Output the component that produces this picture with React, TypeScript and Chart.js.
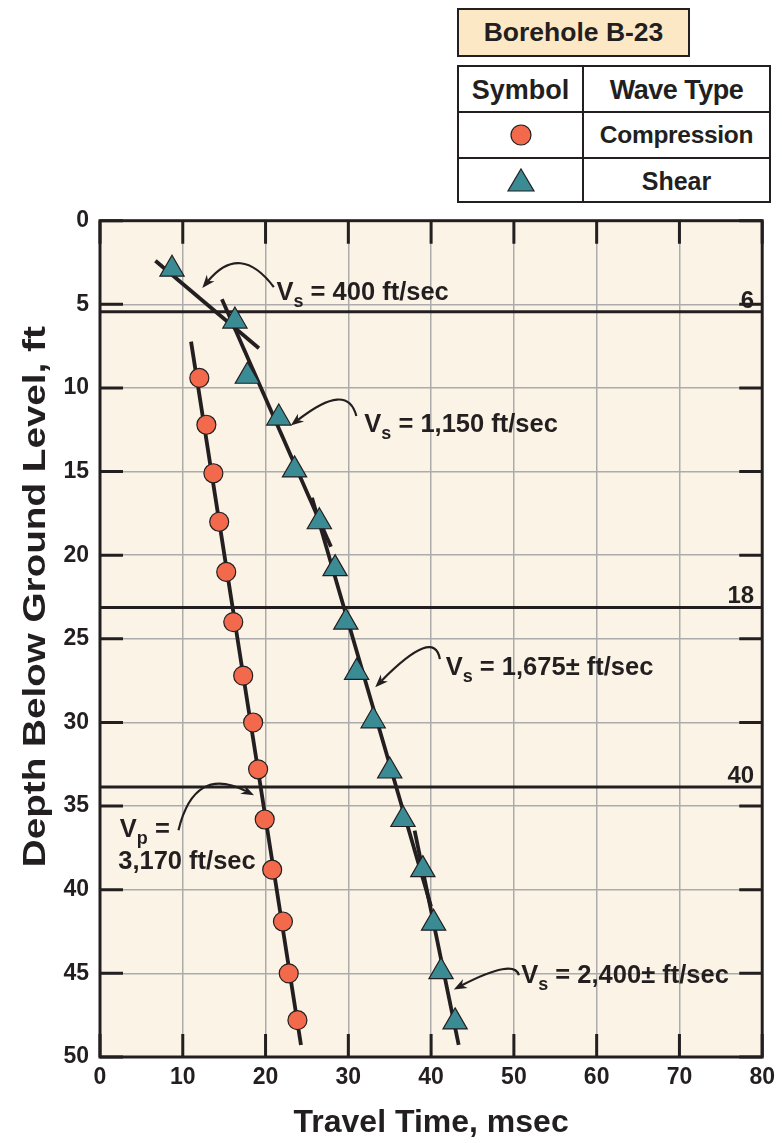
import React, { useEffect, useRef } from 'react';
import { Chart, registerables } from 'chart.js';

Chart.register(...registerables);

// ---------- data ----------
const compressionTime = [12.0, 12.85, 13.7, 14.4, 15.25, 16.1, 17.3, 18.5, 19.1, 19.9, 20.8, 22.1, 22.8, 23.85];
const compressionDepth = [9.4, 12.2, 15.1, 18.0, 21.0, 24.0, 27.2, 30.0, 32.8, 35.8, 38.8, 41.9, 45.0, 47.8];

const shearTime = [8.7, 16.3, 17.8, 21.6, 23.5, 26.5, 28.4, 29.7, 31.0, 33.0, 35.0, 36.6, 39.0, 40.3, 41.2, 42.9];
const shearDepth = [2.9, 6.0, 9.3, 11.8, 14.9, 18.0, 20.8, 24.0, 27.0, 29.9, 32.9, 35.8, 38.8, 42.0, 44.9, 47.9];

// fitted velocity lines: [time, depth] end points
const fitVs400 = [[6.69, 2.39], [19.2, 7.63]];
const fitVs1150 = [[14.73, 4.7], [27.9, 19.5]];
const fitVs1675 = [[25.61, 16.56], [39.99, 41.0]];
const fitVs2400 = [[38.01, 36.47], [43.33, 49.28]];
const fitVp3170 = [[11.0, 7.23], [24.28, 49.28]];

// layer boundaries
const layerDepth = [5.44, 23.12, 33.85];
const layerLabel = ['6', '18', '40'];

// axis ticks
const xTickValues = [0, 10, 20, 30, 40, 50, 60, 70, 80];
const yTickValues = [0, 5, 10, 15, 20, 25, 30, 35, 40, 45, 50];

// annotation arrows (data coords): start, control, tip
const arrowStart = [[21.0, 3.97], [30.97, 11.68], [41.06, 26.21], [50.6, 45.11], [9.48, 36.44]];
const arrowControl = [[16.93, 1.3], [29.89, 9.59], [40.4, 24.3], [50.06, 44.1], [11.4, 32.55]];
const arrowTip = [[12.36, 4.02], [23.05, 12.25], [33.25, 27.89], [42.74, 45.96], [18.61, 34.35]];

// annotation labels (data coords, left/baseline)
const labelPos = [[21.32, 4.74], [31.93, 12.63], [41.77, 27.16], [50.89, 45.58], [2.4, 36.85]];
const labelMain = ['V', 'V', 'V', 'V', 'V'];
const labelSub = ['s', 's', 's', 's', 'p'];
const labelRest = [' = 400 ft/sec', ' = 1,150 ft/sec', ' = 1,675\u00b1 ft/sec', ' = 2,400\u00b1 ft/sec', ' ='];
const extraLabelPos = [[2.2, 38.77]];
const extraLabelText = ['3,170 ft/sec'];

// ---------- styles ----------
const FONT = '"Liberation Sans", Arial, Helvetica, sans-serif';
const INK = '#231f20';
const BG = '#fbf4e6';
const GRID = '#ababab';
const ORANGE = '#f26a4b';
const TEAL = '#3a8b94';

const toPts = (xs: number[], ys: number[]) => xs.map((x, i) => ({ x, y: ys[i] }));
const seg = (p: number[][]) => p.map(([x, y]) => ({ x, y }));

const lineDs = (label: string, pts: number[][]) => ({
  label,
  data: seg(pts),
  showLine: true,
  borderColor: INK,
  borderWidth: 3.8,
  pointRadius: 0,
  order: 2,
});

const decorPlugin = {
  id: 'decor',
  beforeDraw(chart: any) {
    const { ctx, chartArea: a } = chart;
    ctx.save();
    ctx.fillStyle = BG;
    ctx.fillRect(a.left, a.top, a.right - a.left, a.bottom - a.top);
    ctx.restore();
  },
  beforeDatasetsDraw(chart: any) {
    const { ctx, chartArea: a, scales } = chart;
    const xs = scales.x;
    const ys = scales.y;
    const TL = 23;
    ctx.save();
    ctx.strokeStyle = INK;
    ctx.lineWidth = 3;
    ctx.beginPath();
    yTickValues.forEach((v) => {
      const py = ys.getPixelForValue(v);
      ctx.moveTo(a.left, py);
      ctx.lineTo(a.left + TL, py);
      ctx.moveTo(a.right, py);
      ctx.lineTo(a.right - TL, py);
    });
    xTickValues.forEach((v) => {
      const px = xs.getPixelForValue(v);
      ctx.moveTo(px, a.top);
      ctx.lineTo(px, a.top + TL);
      ctx.moveTo(px, a.bottom);
      ctx.lineTo(px, a.bottom - TL);
    });
    ctx.stroke();
    ctx.strokeRect(a.left, a.top, a.right - a.left, a.bottom - a.top);
    ctx.restore();
  },
  afterDatasetsDraw(chart: any) {
    const { ctx, chartArea: a, scales } = chart;
    const xs = scales.x;
    const ys = scales.y;
    const P = (p: number[]) => [xs.getPixelForValue(p[0]), ys.getPixelForValue(p[1])];
    ctx.save();
    ctx.fillStyle = INK;
    ctx.strokeStyle = INK;

    // arrows
    arrowStart.forEach((s, i) => {
      const [x0, y0] = P(s);
      const [cx, cy] = P(arrowControl[i]);
      const [x1, y1] = P(arrowTip[i]);
      const ang = Math.atan2(y1 - cy, x1 - cx);
      const L = 13;
      const W = 5;
      const bx = x1 - L * 0.7 * Math.cos(ang);
      const by = y1 - L * 0.7 * Math.sin(ang);
      ctx.lineWidth = 2.2;
      ctx.beginPath();
      ctx.moveTo(x0, y0);
      ctx.quadraticCurveTo(cx, cy, bx, by);
      ctx.stroke();
      ctx.beginPath();
      ctx.moveTo(x1, y1);
      ctx.lineTo(x1 - L * Math.cos(ang) + W * Math.sin(ang), y1 - L * Math.sin(ang) - W * Math.cos(ang));
      ctx.lineTo(bx, by);
      ctx.lineTo(x1 - L * Math.cos(ang) - W * Math.sin(ang), y1 - L * Math.sin(ang) + W * Math.cos(ang));
      ctx.closePath();
      ctx.fill();
    });

    // labels with subscripts
    ctx.textBaseline = 'alphabetic';
    ctx.textAlign = 'left';
    labelPos.forEach((p, i) => {
      let [x, y] = P(p);
      ctx.font = `bold 25.5px ${FONT}`;
      ctx.fillText(labelMain[i], x, y);
      x += ctx.measureText(labelMain[i]).width;
      ctx.font = `bold 18px ${FONT}`;
      ctx.fillText(labelSub[i], x, y + 7);
      x += ctx.measureText(labelSub[i]).width;
      ctx.font = `bold 25.5px ${FONT}`;
      ctx.fillText(labelRest[i], x, y);
    });
    extraLabelPos.forEach((p, i) => {
      const [x, y] = P(p);
      ctx.font = `bold 25.5px ${FONT}`;
      ctx.fillText(extraLabelText[i], x, y);
    });

    // layer labels
    ctx.textAlign = 'right';
    ctx.font = `bold 24px ${FONT}`;
    layerDepth.forEach((d, i) => {
      const py = ys.getPixelForValue(d);
      ctx.fillText(layerLabel[i], a.right - 8, py - 4);
    });
    ctx.restore();
  },
  afterDraw(chart: any) {
    const { ctx, chartArea: a } = chart;
    const text = 'Depth Below Ground Level, ft';
    ctx.save();
    ctx.font = `bold 31px ${FONT}`;
    const w = ctx.measureText(text).width;
    const sx = 541 / w;
    ctx.translate(a.left - 64, a.top + 376);
    ctx.rotate(-Math.PI / 2);
    ctx.scale(sx, 1);
    ctx.fillStyle = INK;
    ctx.textAlign = 'center';
    ctx.textBaseline = 'middle';
    ctx.fillText(text, 0, 0);
    ctx.restore();
  },
};

function TriangleIcon() {
  return (
    <svg width="30" height="26" viewBox="0 0 30 26" style={{ display: 'block' }}>
      <polygon points="15,2 28,24 2,24" fill={TEAL} stroke={INK} strokeWidth="1.2" />
    </svg>
  );
}
function CircleIcon() {
  return (
    <svg width="24" height="24" viewBox="0 0 24 24" style={{ display: 'block' }}>
      <circle cx="12" cy="12" r="10" fill={ORANGE} stroke={INK} strokeWidth="1.2" />
    </svg>
  );
}

export default function App() {
  const ref = useRef<HTMLCanvasElement | null>(null);

  useEffect(() => {
    if (!ref.current) return;
    const chart = new Chart(ref.current, {
      type: 'scatter',
      data: {
        datasets: [
          {
            label: 'Compression',
            data: toPts(compressionTime, compressionDepth),
            pointStyle: 'circle',
            pointRadius: 9.5,
            pointBackgroundColor: ORANGE,
            pointBorderColor: INK,
            pointBorderWidth: 1.2,
            order: 0,
          },
          {
            label: 'Shear',
            data: toPts(shearTime, shearDepth),
            pointStyle: 'triangle',
            pointRadius: 14,
            pointBackgroundColor: TEAL,
            pointBorderColor: INK,
            pointBorderWidth: 1.2,
            order: 0,
          },
          lineDs('Vs 400', fitVs400),
          lineDs('Vs 1150', fitVs1150),
          lineDs('Vs 1675', fitVs1675),
          lineDs('Vs 2400', fitVs2400),
          lineDs('Vp 3170', fitVp3170),
          ...layerDepth.map((d, i) => ({
            label: 'Layer ' + layerLabel[i],
            data: [{ x: 0, y: d }, { x: 80, y: d }],
            showLine: true,
            borderColor: INK,
            borderWidth: 3,
            pointRadius: 0,
            order: 3,
          })),
        ],
      },
      options: {
        animation: false,
        responsive: false,
        events: [],
        layout: { padding: { left: 0, top: 220.7, right: 15.5, bottom: 0 } },
        plugins: { legend: { display: false }, tooltip: { enabled: false } },
        scales: {
          x: {
            type: 'linear',
            position: 'bottom',
            min: 0,
            max: 80,
            afterBuildTicks: (s: any) => {
              s.ticks = xTickValues.map((v) => ({ value: v }));
            },
            afterFit: (s: any) => {
              s.height = 86;
            },
            ticks: { color: INK, font: { family: FONT, size: 23, weight: 'bold' }, padding: 7 },
            grid: { color: GRID, lineWidth: 1.5, drawTicks: false },
            border: { display: false },
            title: {
              display: true,
              text: 'Travel Time, msec',
              color: INK,
              font: { family: FONT, size: 32, weight: 'bold' },
              padding: { top: 0, bottom: 1 },
            },
          },
          y: {
            type: 'linear',
            position: 'left',
            reverse: true,
            min: 0,
            max: 50,
            afterBuildTicks: (s: any) => {
              s.ticks = yTickValues.map((v) => ({ value: v }));
            },
            afterFit: (s: any) => {
              s.width = 100;
            },
            ticks: { color: INK, font: { family: FONT, size: 23, weight: 'bold' }, padding: 11 },
            grid: { color: GRID, lineWidth: 1.5, drawTicks: false },
            border: { display: false },
          },
        },
      },
      plugins: [decorPlugin],
    } as any);
    return () => chart.destroy();
  }, []);

  const txt: React.CSSProperties = {
    position: 'absolute',
    fontFamily: FONT,
    fontWeight: 'bold',
    color: INK,
    textAlign: 'center',
    lineHeight: 1,
    whiteSpace: 'nowrap',
  };

  return (
    <div style={{ position: 'absolute', left: 0, top: 0, width: 782, height: 1143, background: '#fff', overflow: 'hidden' }}>
      <canvas ref={ref} width={782} height={1143} style={{ position: 'absolute', left: 0, top: 0, width: 782, height: 1143 }} />
      {/* Title box */}
      <div
        style={{
          position: 'absolute',
          left: 457,
          top: 8,
          width: 233,
          height: 49,
          boxSizing: 'border-box',
          border: `2px solid ${INK}`,
          background: '#fde8c5',
          display: 'flex',
          alignItems: 'center',
          justifyContent: 'center',
          fontFamily: FONT,
          fontWeight: 'bold',
          fontSize: 26.5,
          color: INK,
        }}
      >
        Borehole B-23
      </div>
      {/* Legend table */}
      <div
        style={{
          position: 'absolute',
          left: 457,
          top: 65,
          width: 314,
          height: 138,
          boxSizing: 'border-box',
          border: `2px solid ${INK}`,
          background: '#fff',
        }}
      >
        <div style={{ position: 'absolute', left: 123, top: 0, width: 2, height: 134, background: INK }} />
        <div style={{ position: 'absolute', left: 0, top: 44, width: 310, height: 2, background: INK }} />
        <div style={{ position: 'absolute', left: 0, top: 90, width: 310, height: 2, background: INK }} />
        <div style={{ ...txt, left: 0, width: 123, top: 10, fontSize: 27 }}>Symbol</div>
        <div style={{ ...txt, left: 125, width: 185, top: 10, fontSize: 27, letterSpacing: -0.5 }}>Wave Type</div>
        <div style={{ ...txt, left: 125, width: 185, top: 56, fontSize: 24.5, letterSpacing: -0.3 }}>Compression</div>
        <div style={{ ...txt, left: 125, width: 185, top: 102, fontSize: 25 }}>Shear</div>
        <div style={{ position: 'absolute', left: 50, top: 56 }}>
          <CircleIcon />
        </div>
        <div style={{ position: 'absolute', left: 47, top: 100 }}>
          <TriangleIcon />
        </div>
      </div>
    </div>
  );
}
